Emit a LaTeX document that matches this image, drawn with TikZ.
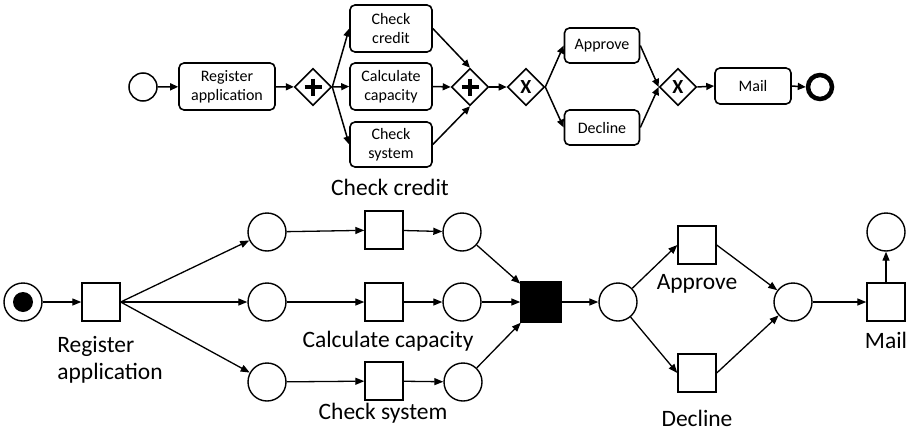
\documentclass[tikz,border=0pt]{standalone}
\usepackage{fontspec}
\setmainfont{Carlito}
\usetikzlibrary{arrows.meta,shapes.geometric,calc}
\begin{document}
\begin{tikzpicture}[x=1pt,y=-1pt,
  task/.style={draw, rounded corners=5pt, line width=1.6pt, align=center, inner sep=0pt,
    font=\fontsize{16}{19}\selectfont},
  gw/.style={draw, diamond, aspect=1, line width=1.6pt, minimum size=37pt, inner sep=0pt, fill=white},
  ev/.style={draw, circle, line width=1.5pt, minimum size=28pt, inner sep=0pt},
  arr/.style={-{Triangle[length=8pt,width=7pt]}, line width=1.5pt},
  place/.style={draw, circle, line width=1.4pt, minimum size=38pt, inner sep=0pt},
  trans/.style={draw, rectangle, line width=1.4pt, minimum size=38pt, inner sep=0pt},
  barr/.style={-{Triangle[length=9pt,width=7pt]}, line width=1.3pt},
  lbl/.style={font=\fontsize{23.5}{27}\selectfont, inner sep=0pt}
]
\useasboundingbox (0,0) rectangle (913,434);
% ---------- top: BPMN ----------
\node[ev] (st) at (143,87) {};
\node[task, minimum width=96pt, minimum height=47pt] (reg) at (227,86.5) {Register\\application};
\node[gw] (g1) at (313,87) {};
\draw[line width=3.6pt] ($(g1)+(-8.5,0)$) -- ($(g1)+(8.5,0)$) ($(g1)+(0,-8.5)$) -- ($(g1)+(0,8.5)$);
\node[task, minimum width=82pt, minimum height=47pt] (cc) at (391,28.5) {Check\\credit};
\node[task, minimum width=82pt, minimum height=47pt] (calc) at (391,86.5) {Calculate\\capacity};
\node[task, minimum width=82pt, minimum height=45pt] (cs) at (391,144.5) {Check\\system};
\node[gw] (g2) at (470,87) {};
\draw[line width=3.6pt] ($(g2)+(-8.5,0)$) -- ($(g2)+(8.5,0)$) ($(g2)+(0,-8.5)$) -- ($(g2)+(0,8.5)$);
\node[gw, font=\fontsize{20}{20}\bfseries] (x1) at (526,87) {X};
\node[task, minimum width=75pt, minimum height=35pt] (appr) at (602,45.5) {Approve};
\node[task, minimum width=75pt, minimum height=35pt] (decl) at (602,127.5) {Decline};
\node[gw, font=\fontsize{20}{20}\bfseries] (x2) at (678,87) {X};
\node[task, minimum width=76pt, minimum height=36pt] (mail) at (753,86) {Mail};
\node[draw, circle, line width=4.5pt, minimum size=24pt, inner sep=0pt] (en) at (820,87) {};
\draw[arr] (st) -- (reg);
\draw[arr] (reg) -- (g1);
\draw[arr] (g1.east) -- (cc.west);
\draw[arr] (g1.east) -- (calc.west);
\draw[arr] (g1.east) -- (cs.west);
\draw[arr] (cc.east) -- (g2.north);
\draw[arr] (calc.east) -- (g2.west);
\draw[arr] (cs.east) -- (g2.south);
\draw[arr] (g2.east) -- (x1.west);
\draw[arr] (x1.east) -- (appr.west);
\draw[arr] (x1.east) -- (decl.west);
\draw[arr] (appr.east) -- (x2.west);
\draw[arr] (decl.east) -- (x2.west);
\draw[arr] (x2.east) -- (mail.west);
\draw[arr] (mail.east) -- (en.west);
% ---------- bottom: Petri net ----------
\node[place] (p0) at (23,302) {};
\fill (p0) circle (10pt);
\node[trans] (t0) at (101,302) {};
\node[place] (p1a) at (267,232) {};
\node[place] (p1b) at (267,302) {};
\node[place] (p1c) at (267,382) {};
\node[trans] (ta) at (384,230) {};
\node[trans] (tb) at (384,302) {};
\node[trans] (tc) at (384,381) {};
\node[place] (p2a) at (462,232) {};
\node[place] (p2b) at (462,302) {};
\node[place] (p2c) at (463,382) {};
\node[trans, fill=black, minimum size=40pt] (tj) at (541,302) {};
\node[place] (p3) at (618,302) {};
\node[trans] (tap) at (697,245) {};
\node[trans] (tde) at (697,373) {};
\node[place] (p4) at (793,302) {};
\node[trans] (tm) at (886,302) {};
\node[place] (p5) at (886,232) {};
\draw[barr] (p0) -- (t0);
\draw[barr] (t0.east) -- (p1a);
\draw[barr] (t0.east) -- (p1b);
\draw[barr] (t0.east) -- (p1c);
\draw[barr] (p1a) -- (ta);
\draw[barr] (p1b) -- (tb);
\draw[barr] (p1c) -- (tc);
\draw[barr] (ta) -- (p2a);
\draw[barr] (tb) -- (p2b);
\draw[barr] (tc) -- (p2c);
\draw[barr] (p2a) -- (tj);
\draw[barr] (p2b) -- (tj);
\draw[barr] (p2c) -- (tj);
\draw[barr] (tj) -- (p3);
\draw[barr] (p3) -- (tap.west);
\draw[barr] (p3) -- (tde.west);
\draw[barr] (tap.east) -- (p4);
\draw[barr] (tde.east) -- (p4);
\draw[barr] (p4) -- (tm);
\draw[barr] (tm) -- (p5);
\node[lbl] (lcc) at (390,187) {Check credit};
\node[lbl, align=left] (lreg) at (110,360) {Register\\application};
\node[lbl] (lcalc) at (388,341) {Calculate capacity};
\node[lbl] (lcs) at (383,413) {Check system};
\node[lbl] (lap) at (697,284) {Approve};
\node[lbl] (lde) at (697,418) {Decline};
\node[lbl] (lm) at (886,340) {Mail};
\end{tikzpicture}
\end{document}
